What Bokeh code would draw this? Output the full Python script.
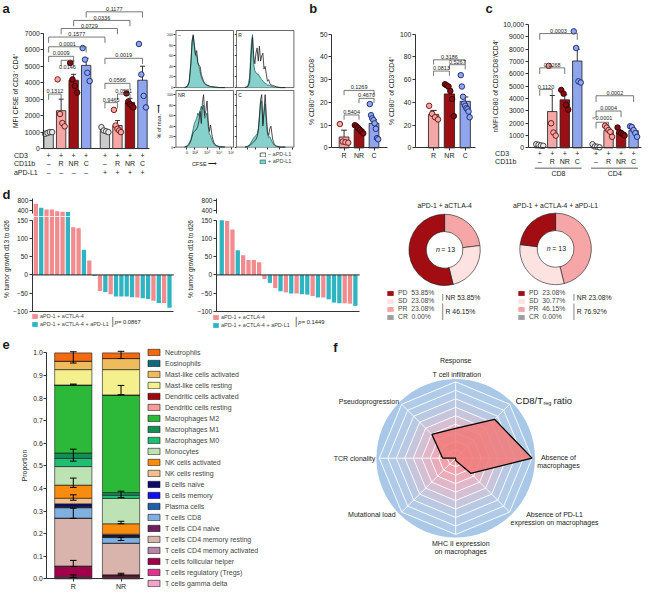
import numpy as np
from bokeh.plotting import figure
from bokeh.layouts import row, column
from bokeh.models import Label, Legend, LegendItem, ColumnDataSource, PrintfTickFormatter, FixedTicker
from bokeh.core.properties import value
from bokeh.embed import file_html
from bokeh.resources import INLINE

FONT = "Liberation Sans"
INK = "#1a1a1a"
S = 0.965

# ---------------- data ----------------
GREY, PINK, DRED, BLUE = "#cbcbcb", "#f4a7a5", "#9c0f14", "#8fa6ee"
PT_FILL = {"g": "#e8e8e8", "r": "#f4a7a5", "n": "#8a0a10", "c": "#8fa6ee"}
PT_LINE = {"g": "#333333", "r": "#6a0d0d", "n": "#2a0000", "c": "#16246e"}

# panel a
a_x = [0, 1, 2, 3, 4.5, 5.5, 6.5, 7.5]
a_cd3 = ["+"] * 8
a_cd11b = ["–", "R", "NR", "C", "–", "R", "NR", "C"]
a_apdl1 = ["–"] * 4 + ["+"] * 4
a_mean = [950, 2300, 4150, 5050, 1100, 1400, 2800, 4150]
a_sem = [60, 700, 360, 430, 70, 300, 250, 850]
a_points = [[900, 950, 1000, 1000], [4200, 2100, 1550, 1350], [5200, 4200, 3800, 3400],
            [6100, 5400, 4600, 4100], [1300, 1100, 1050, 1000], [2350, 1400, 1200, 1100, 1000],
            [3350, 2850, 2700, 2600, 2500], [6350, 4500, 3200, 2500]]
a_br_x0 = [3, 2, 1, 0, 0, 0, 1, 0, 4.5, 4.5, 5.5, 4.5]
a_br_x1 = [7.5, 6.5, 5.5, 4.5, 3, 2, 2, 1, 7.5, 6.5, 6.5, 5.5]
a_br_y = [8300, 7780, 7290, 6770, 6180, 5600, 5360, 3310, 5480, 3960, 3310, 2790]
a_br_p = ["0.1177", "0.0336", "0.0729", "0.1577", "0.0001", "0.0009", "0.0146", "0.1312",
          "0.0019", "0.0566", "0.0531", "0.9465"]

# histograms (CFSE), x = position along biexponential axis (% of width)
h_x = [15, 20, 23, 26, 28, 30, 32, 34, 36, 38, 40, 42, 44, 46, 48, 50, 52, 54, 56, 58, 60, 63, 66, 70, 76, 85]
h_names = ["–", "R", "NR", "C"]
h_neg = [[0, 2, 10, 45, 85, 100, 80, 62, 70, 48, 42, 40, 25, 18, 12, 8, 6, 5, 4, 3, 2, 2, 1, 1, 0, 0],
         [0, 2, 10, 70, 95, 60, 45, 65, 75, 50, 78, 50, 60, 65, 35, 40, 25, 12, 15, 8, 5, 4, 3, 1, 0, 0],
         [0, 2, 5, 12, 20, 28, 30, 32, 35, 40, 50, 68, 45, 85, 100, 60, 70, 88, 50, 30, 42, 20, 8, 3, 1, 0],
         [0, 1, 3, 6, 8, 10, 12, 15, 20, 30, 55, 90, 100, 40, 70, 100, 60, 30, 22, 35, 40, 15, 5, 2, 0, 0]]
h_pos = [[0, 3, 12, 50, 90, 98, 78, 60, 62, 45, 40, 30, 20, 14, 10, 7, 5, 4, 3, 2, 2, 1, 1, 0, 0, 0],
         [0, 3, 20, 85, 100, 45, 32, 28, 26, 25, 22, 18, 15, 12, 10, 8, 7, 5, 5, 4, 3, 2, 1, 1, 0, 0],
         [0, 3, 8, 15, 25, 35, 45, 50, 55, 65, 60, 70, 78, 72, 80, 55, 60, 65, 40, 25, 22, 12, 5, 2, 0, 0],
         [0, 2, 5, 10, 14, 18, 20, 22, 25, 35, 60, 85, 88, 45, 65, 82, 50, 25, 18, 20, 15, 8, 3, 1, 0, 0]]
h_tick_pos = [19, 33, 54, 75, 97]
h_tick_lab = ["0", "10²", "10³", "10⁴", "10⁵"]

# panel b
b_x = [0, 1, 2]
b_cats = ["R", "NR", "C"]
b1_mean = [4.8, 8.2, 10.8]
b1_sem = [3.0, 0.7, 1.6]
b1_points = [[10.5, 2.8, 2.5, 2.3], [10.0, 9.5, 8.8, 8.0, 7.2, 6.4],
             [19.3, 14.4, 13.0, 12.2, 10.8, 8.4, 4.3, 3.8]]
b1_br = ([0, 1, 0], [2, 2, 1], [25.3, 21.8, 14.5], ["0.1269", "0.4670", "0.5404"])
b2_mean = [29.5, 47.5, 41.0]
b2_sem = [3.5, 4.5, 3.8]
b2_points = [[37, 30, 27, 25], [56, 55, 54, 50, 43, 28], [64, 54, 45, 39, 37, 35, 34, 32, 27]]
b2_br = ([0, 1, 0], [2, 2, 1], [77.5, 73.2, 67.6], ["0.3186", "0.5267", "0.0813"])

# panel c
c_x = [0, 1, 2, 3, 4.5, 5.5, 6.5, 7.5]
c_cd3 = ["+"] * 8
c_cd11b = ["–", "R", "NR", "C", "–", "R", "NR", "C"]
c_groups = ["CD8", "CD4"]
c_mean = [250, 2950, 3900, 7050, 150, 1400, 1250, 1400]
c_sem = [40, 1300, 400, 950, 50, 150, 120, 180]
c_points = [[300, 250, 200, 170], [6650, 2000, 1250, 1000], [4700, 4400, 3500, 3100],
            [9450, 8100, 5400, 5300], [300, 120, 100, 50], [1800, 1650, 1450, 1300, 900],
            [1650, 1300, 1200, 1100, 1000], [1750, 1700, 1450, 1200, 900]]
c_br = ([0, 0, 0, 4.5, 4.5, 4.5], [3, 2, 1, 7.5, 6.5, 5.5], [9270, 6490, 4730, 4230, 2990, 2080],
        ["0.0003", "0.0268", "0.1120", "0.0002", "0.0004", "<0.0001"])

# panel d (waterfalls); A = aPD-1 + aCTLA-4, B = + aPD-L1
d_groups = ["aPD-1 + aCTLA-4", "aPD-1 + aCTLA-4 + aPD-L1"]
d1_vals = [670, 500, 430, 430, 350, 330, 320, 131, 128, 69, 40, -3, -44, -47, -53, -59, -59, -59,
           -61, -62, -64, -66, -71, -77, -77, -90]
d1_grp = ["A", "B", "A", "A", "A", "A", "B", "A", "A", "B", "A", "B", "A", "B", "A", "B", "B", "B",
          "B", "A", "B", "B", "A", "B", "A", "B"]
d1_p = "0.0867"
d2_vals = [150, 148, 125, 68, 54, 41, 41, 35, -11, -22, -36, -45, -48, -51, -51, -53, -54, -58,
           -62, -62, -67, -76, -78, -78, -79, -85]
d2_grp = ["B", "A", "A", "B", "A", "A", "A", "A", "A", "B", "A", "B", "A", "B", "A", "B", "B", "A",
          "B", "A", "B", "B", "B", "A", "A", "B"]
d2_p = "0.1449"
d_ticks = [-100, -50, 0, 50, 100, 150]

# donuts
don_labels = ["PD", "SD", "PR", "CR"]
don1_pct = [53.85, 23.08, 23.08, 0.00]
don2_pct = [23.08, 30.77, 46.15, 0.00]
don_titles = ["aPD-1 + aCTLA-4", "aPD-1 + aCTLA-4 + aPD-L1"]
don_n = 13

# panel e (top to bottom, as in legend)
e_types = ["Neutrophils", "Eosinophils", "Mast-like cells activated", "Mast-like cells resting",
           "Dendritic cells activated", "Dendritic cells resting", "Macrophages M2", "Macrophages M1",
           "Macrophages M0", "Monocytes", "NK cells activated", "NK cells resting", "B cells naive",
           "B cells memory", "Plasma cells", "T cells CD8", "T cells CD4 naive",
           "T cells CD4 memory resting", "T cells CD4 memory activated", "T cells follicular helper",
           "T cells regulatory (Tregs)", "T cells gamma delta"]
e_colors = ["#f36a10", "#0e6a7e", "#eebc5c", "#f4f08e", "#a0070d", "#f79a9a", "#2cb93a", "#138e55",
            "#1fbe72", "#bde3b5", "#f98c0f", "#f2c08e", "#0b0b6e", "#1010f0", "#1f5fa8", "#7fb0e0",
            "#6d1f5e", "#d8b4ad", "#b785a8", "#a0004a", "#e0358f", "#f2a5c8"]
e_R = [0.037, 0.0, 0.037, 0.068, 0.0, 0.0, 0.301, 0.024, 0.036, 0.082, 0.058, 0.025, 0.012, 0.002,
       0.003, 0.046, 0.0, 0.212, 0.002, 0.046, 0.004, 0.005]
e_NR = [0.025, 0.0, 0.049, 0.112, 0.0, 0.0, 0.432, 0.012, 0.014, 0.112, 0.046, 0.004, 0.006, 0.002,
        0.003, 0.025, 0.0, 0.140, 0.0, 0.008, 0.004, 0.006]
e_cats = ["R", "NR"]
e_err_x = [0, 0, 0, 0, 0, 0, 0, 0, 1, 1, 1, 1, 1, 1]
e_err_lo = [0.955, 0.858, 0.521, 0.405, 0.348, 0.268, 0.055, 0.006, 0.975, 0.815, 0.360, 0.244, 0.170, 0.018]
e_err_hi = [1.005, 0.862, 0.574, 0.446, 0.372, 0.313, 0.082, 0.018, 1.007, 0.856, 0.388, 0.255, 0.183, 0.025]

# panel f (radar), clockwise from top
f_axes = ["T cell infiltration", "CD8/Treg ratio", "Absence of macrophages",
          "Absence of PD-L1 expression on macrophages", "MHC II expression on macrophages",
          "Mutational load", "TCR clonality", "Pseudoprogression"]
f_vals = [0.39, 0.72, 1.0, 0.28, 0.03, 0.0, 0.17, 0.44]

# ---------------- helpers ----------------
FR = {}
NAN1 = np.array([np.nan])


def sc(v):
    return int(round(v * S))


def mkfig(X0, Y0, X1, Y1, fx, fy):
    """Figure whose frame fills the whole box (X0..X1, Y0..Y1) of the reference layout."""
    p = figure(width=sc(X1) - sc(X0), height=sc(Y1) - sc(Y0),
               x_range=(fx(X0), fx(X1)), y_range=(fy(Y1), fy(Y0)),
               output_backend="svg", toolbar_location=None, min_border=0)
    p.outline_line_color = None
    p.xgrid.visible = False
    p.ygrid.visible = False
    p.background_fill_color = "white"
    p.border_fill_color = "white"
    FR[id(p)] = (fx, fy)
    return p


def to_data(p, X, Y):
    fx, fy = FR[id(p)]
    return fx(X), fy(Y)


def label(p, X, Y, text, size="6.5px", align="left", baseline="middle", style="normal", color=INK, angle=0.0):
    x, y = to_data(p, X, Y)
    p.add_layout(Label(x=x, y=y, text=text, text_font=FONT, text_font_size=size, text_align=align,
                       text_baseline=baseline, text_font_style=style, text_color=color, angle=angle))


def style_axis(ax, size="6.5px", tick=3):
    ax.axis_line_color = "#333333"
    ax.axis_line_width = 1
    ax.major_tick_line_color = "#333333"
    ax.major_tick_out = tick
    ax.major_tick_in = 0
    ax.minor_tick_line_color = None
    ax.major_label_text_font = FONT
    ax.major_label_text_font_size = size
    ax.major_label_text_color = INK
    ax.major_label_standoff = 1
    ax.axis_label_text_font = FONT
    ax.axis_label_text_font_size = size
    ax.axis_label_text_font_style = "normal"
    ax.axis_label_text_color = INK
    ax.axis_label_standoff = 2


def yax(p, X, bounds, ticks, lab=None, size="6.8px", tick=3):
    ax = p.yaxis[0]
    style_axis(ax, size, tick)
    ax.fixed_location = to_data(p, X, 0)[0]
    ax.bounds = bounds
    ax.ticker = ticks
    if lab:
        ax.axis_label = lab
    return ax


def xax(p, yloc, X0, X1, ticks, overrides=None, size="7px", tick=3):
    ax = p.xaxis[0]
    style_axis(ax, size, tick)
    ax.fixed_location = yloc
    ax.bounds = (to_data(p, X0, 0)[0], to_data(p, X1, 0)[0])
    ax.ticker = ticks
    if overrides:
        ax.major_label_overrides = overrides
    return ax


def bars(p, xs, means, sems, pts, fills, keys, width, capw, jit, psize=5.5):
    p.vbar(x=xs, top=means, width=width, fill_color=fills, line_color=INK, line_width=0.8)
    tops = [m + s for m, s in zip(means, sems)]
    p.segment(x0=xs, y0=means, x1=xs, y1=tops, line_color=INK, line_width=0.9)
    p.segment(x0=[x - capw for x in xs], y0=tops, x1=[x + capw for x in xs], y1=tops,
              line_color=INK, line_width=0.9)
    px, py, pf, pl = [], [], [], []
    for x, vals, k in zip(xs, pts, keys):
        n = len(vals)
        for i, v in enumerate(vals):
            off = 0.0 if n == 1 else -jit + 2 * jit * i / (n - 1)
            px.append(x + off)
            py.append(v)
            pf.append(PT_FILL[k])
            pl.append(PT_LINE[k])
    p.scatter(x=px, y=py, size=psize, fill_color=pf, line_color=pl, line_width=0.9)


def brackets(p, x0s, x1s, ys, labels, leg, px1, size="5.5px", below=()):
    p.multi_line(xs=[[a, a, b, b] for a, b in zip(x0s, x1s)],
                 ys=[[y - leg, y, y, y - leg] for y in ys], line_color="#555555", line_width=0.8)
    up = [i for i in range(len(labels)) if labels[i] not in below]
    dn = [i for i in range(len(labels)) if labels[i] in below]
    p.text(x=[(x0s[i] + x1s[i]) / 2 for i in up], y=[ys[i] + px1 for i in up],
           text=[labels[i] for i in up], text_font=value(FONT), text_font_size=size,
           text_align="center", text_baseline="bottom", text_color=INK)
    if dn:
        p.text(x=[(x0s[i] + x1s[i]) / 2 for i in dn], y=[ys[i] - 5 * px1 for i in dn],
               text=[labels[i] for i in dn], text_font=value(FONT), text_font_size=size,
               text_align="center", text_baseline="top", text_color=INK)


def row_text(p, xs, Y, texts, size="7px"):
    yd = to_data(p, 0, Y)[1]
    p.text(x=xs, y=[yd] * len(xs), text=texts, text_font=value(FONT), text_font_size=size,
           text_align="center", text_baseline="middle", text_color=INK)


def letter(p, X, Y, t):
    label(p, X, Y, t, size="13px", style="bold", baseline="top")


def legend(items, X, Ybottom, X0, Y1, size, gw, gh, lh, sp, st):
    return Legend(items=items, location=(sc(X) - sc(X0), sc(Y1) - sc(Ybottom)), label_text_font=FONT,
                  label_text_font_size=size, glyph_width=gw, glyph_height=gh, label_height=lh,
                  label_standoff=st, spacing=sp, padding=0, margin=0, border_line_color=None,
                  background_fill_alpha=0)


def swatch(p, fill, line=None, lw=0.7):
    return p.quad(left=NAN1, right=NAN1, top=NAN1, bottom=NAN1, fill_color=fill,
                  line_color=line, line_width=lw)


# ---------------- panel a ----------------
fa = mkfig(0, 0, 160, 192, lambda X: (X - 50) / 13, lambda Y: (153.7 - Y) / 17.1 * 1000)
yax(fa, 45, (0, 7000), [0, 1000, 2000, 3000, 4000, 5000, 6000, 7000], "MFI CFSE of CD3⁺ CD4⁺")
xax(fa, 0, 45, 155, [])
keys8 = ["g", "r", "n", "c"] * 2
bars(fa, a_x, a_mean, a_sem, a_points, [GREY, PINK, DRED, BLUE] * 2, keys8, 0.75, 0.2, 0.28)
brackets(fa, a_br_x0, a_br_x1, a_br_y, a_br_p, 350, 55, below=("0.0146",))
for Y, vals, name in ((161, a_cd3, "CD3"), (169.5, a_cd11b, "CD11b"), (178, a_apdl1, "aPD-L1")):
    row_text(fa, a_x, Y, vals)
    label(fa, 14, Y, name, size="7px")
letter(fa, 2, 1, "a")

# ---------------- histograms ----------------
hboxes = [((160, 0, 242, 92), (182, 31, 241, 90)), ((242, 0, 314, 92), (244, 31, 304, 90)),
          ((160, 92, 242, 192), (182, 93, 241, 152)), ((242, 92, 314, 192), (244, 93, 304, 152))]
hf = []
for k, (outer, box) in enumerate(hboxes):
    BX0, BY0, BX1, BY1 = box
    p = mkfig(*outer, lambda X, a=BX0, b=BX1: (X - a) / (b - a) * 100,
              lambda Y, a=BY0, b=BY1: (b - Y) / (b - a) * 108)
    p.quad(left=[0], right=[100], bottom=[0], top=[108], fill_color=None, line_color="#444444", line_width=0.8)
    ax = yax(p, BX0, (0, 100), [0, 20, 40, 60, 80, 100], size="3.6px", tick=2)
    ax.axis_line_color = None
    if k in (1, 3):
        ax.ticker = FixedTicker(ticks=[], minor_ticks=[0, 20, 40, 60, 80, 100])
        ax.minor_tick_line_color = "#333333"
        ax.minor_tick_out = 2
        ax.minor_tick_in = 0
    if k >= 2:
        xa = xax(p, 0, BX0, BX1, h_tick_pos, dict(zip(h_tick_pos, h_tick_lab)), size="4.2px", tick=2)
        xa.axis_line_color = None
        if k == 3:
            xa.ticker = FixedTicker(ticks=[], minor_ticks=h_tick_pos)
            xa.minor_tick_line_color = "#333333"
            xa.minor_tick_out = 2
            xa.minor_tick_in = 0
    else:
        p.xaxis.visible = False
    p.varea(x=h_x, y1=0, y2=h_pos[k], fill_color="#7fcfc8", fill_alpha=0.95)
    p.line(x=h_x, y=h_pos[k], line_color="#1d6c68", line_width=0.8)
    p.line(x=h_x, y=h_neg[k], line_color="#222222", line_width=0.8)
    label(p, BX0 + 2, BY0 + 2, h_names[k], size="5px", baseline="top")
    hf.append(p)
hf[2].yaxis[0].axis_label = "% of max. ⟶"
hf[2].yaxis[0].axis_label_text_font_size = "5.5px"
hf[2].yaxis[0].axis_label_standoff = 2
hf[2].xaxis[0].axis_label = "CFSE ⟶"
hf[2].xaxis[0].axis_label_text_font_size = "5.5px"
hf[2].xaxis[0].axis_label_standoff = 2
dneg = swatch(hf[3], "white", "#222222")
dpos = swatch(hf[3], "#7fcfc8", "#1d6c68")
hf[3].add_layout(legend([LegendItem(label="– aPD-L1", renderers=[dneg]),
                         LegendItem(label="+ aPD-L1", renderers=[dpos])],
                        268, 170, 242, 192, "5.5px", 7, 5, 6, 1, 2))
hist = column(row(hf[0], hf[1]), row(hf[2], hf[3]))


# ---------------- panel b ----------------
def bpanel(X0, X1, AX, BX1, c0, step, k, ticks, means, sems, pts, br, leg, px1, ylab):
    p = mkfig(X0, 0, X1, 192, lambda X: (X - c0) / step, lambda Y: (153 - Y) / k)
    yax(p, AX, (0, ticks[-1]), ticks, ylab)
    xax(p, 0, AX, BX1, b_x, dict(zip(b_x, b_cats)))
    bars(p, b_x, means, sems, pts, [PINK, DRED, BLUE], ["r", "n", "c"], 0.65, 0.2, 0.28)
    brackets(p, *br, leg, px1)
    return p


fb1 = bpanel(314, 402, 343, 401, 356, 15.5, 2.36, [0, 10, 20, 30, 40, 50], b1_mean, b1_sem,
             b1_points, b1_br, 2.1, 0.45, "% CD80⁺ of CD3⁺CD8⁺")
fb2 = bpanel(402, 500, 430, 493, 449, 16.5, 1.18, [0, 20, 40, 60, 80, 100], b2_mean, b2_sem,
             b2_points, b2_br, 4.2, 0.9, "% CD80⁺ of CD3⁺CD4⁺")
letter(fb1, 320, 1, "b")

# ---------------- panel c ----------------
fc = mkfig(500, 0, 667, 192, lambda X: (X - 559) / 12.9, lambda Y: (153 - Y) / 12.8 * 1000)
cy_ax = yax(fc, 547, (0, 10000), list(range(0, 10001, 1000)), "nMFI CD80 of CD3⁺CD8⁺/CD4⁺")
cy_ax.major_label_overrides = {10000: "10,000"}
xax(fc, 0, 547, 664, [])
bars(fc, c_x, c_mean, c_sem, c_points, [GREY, PINK, DRED, BLUE] * 2, keys8, 0.75, 0.2, 0.28)
brackets(fc, *c_br, 500, 70)
row_text(fc, c_x, 159, c_cd3)
row_text(fc, c_x, 167, c_cd11b)
label(fc, 513, 159, "CD3", size="7px")
label(fc, 513, 167, "CD11b", size="7px")
yl = to_data(fc, 0, 174)[1]
fc.segment(x0=[c_x[0] - 0.4, c_x[4] - 0.4], y0=[yl, yl], x1=[c_x[3] + 0.35, c_x[7] + 0.35], y1=[yl, yl],
           line_color="#333333", line_width=0.8)
row_text(fc, [(c_x[0] + c_x[3]) / 2, (c_x[4] + c_x[7]) / 2], 180, c_groups)
letter(fc, 503, 1, "c")

# ---------------- panel d ----------------
DPINK, DTEAL = "#f28b8d", "#2fb5c1"


def waterfall(X0, X1, AX, BX1, c0, step, vals, grp, ylab, pval, PX, LX, LY, LABX):
    fx = lambda X: (X - c0) / step
    top = mkfig(X0, 192, X1, 224, fx, lambda Y: 250 + (221 - Y) * 41.67)
    main = mkfig(X0, 224, X1, 347, fx, lambda Y: 150 - (Y - 228) * 250 / 94)
    rends = {}
    for f in (top, main):
        for g, col in (("A", DPINK), ("B", DTEAL)):
            idx = [i for i, gg in enumerate(grp) if gg == g]
            rends[g] = f.vbar(x=idx, top=[vals[i] for i in idx], width=0.8, fill_color=col, line_color=None)
    top.xaxis.visible = False
    yax(top, AX, (250, 880), [400, 800], size="6.5px")
    ya = yax(main, AX, (-100, 150), d_ticks, None, size="6.5px")
    ya.major_label_text_alpha = 0
    # tick labels of the main segment, written at the axis ticks
    main.text(x=[fx(AX - 4.5)] * len(d_ticks), y=d_ticks,
              text=[("−%d" % -t) if t < 0 else ("%d" % t) for t in d_ticks],
              text_font=value(FONT), text_font_size="6.5px", text_align="right",
              text_baseline="middle", text_color=INK)
    label(main, LABX, 268, ylab, size="6.5px", align="center", angle=np.pi / 2)
    xax(main, -100, AX, BX1, [])
    x0d, x1d = fx(AX), fx(BX1)
    main.segment(x0=[x0d], y0=[0], x1=[x1d], y1=[0], line_color="#222222", line_width=1)
    main.add_layout(legend([LegendItem(label=d_groups[0], renderers=[rends["A"]]),
                            LegendItem(label=d_groups[1], renderers=[rends["B"]])],
                           LX, LY, X0, 347, "5.5px", 7, 6, 6, 2, 2))
    label(main, PX, 332, "|", size="11px", color="#666666")
    label(main, PX + 3.5, 333, "p", size="5.8px", style="italic")
    label(main, PX + 7, 333, "= " + pval, size="5.8px")
    return top, main


d1t, d1m = waterfall(0, 190, 33, 180, 36.7, 5.55, d1_vals, d1_grp, "% tumor growth d13 to d26",
                     d1_p, 115, 32, 339, 6)
d2t, d2m = waterfall(190, 380, 224, 372, 229.5, 5.52, d2_vals, d2_grp, "% tumor growth d19 to d26",
                     d2_p, 305, 220, 340, 197)
letter(d1t, 2, 194, "d")

# ---------------- donuts ----------------
DON_COLORS = ["#a10d12", "#fde2e2", "#f6a6a6", "#9e9e9e"]


def donut(X0, X1, CX, CY, title, pcts, LX, BX):
    p = mkfig(X0, 192, X1, 347, lambda X: X - X0, lambda Y: 347 - Y)
    p.xaxis.visible = False
    p.yaxis.visible = False
    cx, cy = to_data(p, CX, CY)
    order = [2, 1, 0]
    st, en, cols = [], [], []
    cum = 0.0
    for i in order:
        st.append(np.pi / 2 - 2 * np.pi * cum / 100)
        cum += pcts[i]
        en.append(np.pi / 2 - 2 * np.pi * cum / 100)
        cols.append(DON_COLORS[i])
    p.annular_wedge(x=[cx] * 3, y=[cy] * 3, inner_radius=19, outer_radius=37, start_angle=st,
                    end_angle=en, direction="clock", fill_color=cols, line_color=INK, line_width=0.6)
    label(p, CX, 213, title, size="6.8px", align="center")
    label(p, CX - 5, CY, "n", size="7px", align="right", style="italic")
    label(p, CX - 3.5, CY, "= %d" % don_n, size="7px")
    items = []
    for lab_, pct, col in zip(don_labels, pcts, DON_COLORS):
        d = swatch(p, col)
        items.append(LegendItem(label="%s  %.2f%%" % (lab_, pct), renderers=[d]))
    p.add_layout(legend(items, LX, 332, X0, 347, "6.8px", 8, 6, 6, 1, 4))
    xb = to_data(p, BX, 0)[0]
    y1a, y1b = to_data(p, 0, 304)[1], to_data(p, 0, 311)[1]
    y2a, y2b = to_data(p, 0, 314)[1], to_data(p, 0, 331)[1]
    p.segment(x0=[xb, xb], y0=[y1a, y2a], x1=[xb, xb], y1=[y1b, y2b], line_color="#999999", line_width=1.2)
    label(p, BX + 3, 307.5, "NR %.2f%%" % pcts[0], size="6.8px")
    label(p, BX + 3, 322, "R   %.2f%%" % (100 - pcts[0]), size="6.8px")
    return p


dn1 = donut(380, 518, 460, 258.5, don_titles[0], don1_pct, 400, 458)
dn2 = donut(518, 667, 575, 257.5, don_titles[1], don2_pct, 536, 594)

# ---------------- panel e ----------------
pe = mkfig(0, 347, 335, 611, lambda X: (X - 75.5) / 49.5, lambda Y: (599 - Y) / 234)
ey = yax(pe, 48, (0, 1), [i / 10 for i in range(11)], "Proportion")
ey.formatter = PrintfTickFormatter(format="%.1f")
xax(pe, 0, 48, 148, [0, 1], {0: e_cats[0], 1: e_cats[1]})
stack_names = e_types[::-1]
src = dict(x=[0, 1])
for nme, r, nr in zip(e_types, e_R, e_NR):
    src[nme] = [r, nr]
rends = pe.vbar_stack(stack_names, x="x", width=0.78, color=e_colors[::-1], source=ColumnDataSource(src),
                      line_color=INK, line_width=0.6)
pe.segment(x0=e_err_x, y0=e_err_lo, x1=e_err_x, y1=e_err_hi, line_color="black", line_width=1)
pe.segment(x0=[x - 0.07 for x in e_err_x], y0=e_err_hi, x1=[x + 0.07 for x in e_err_x], y1=e_err_hi,
           line_color="black", line_width=1)
pe.segment(x0=[x - 0.07 for x in e_err_x], y0=e_err_lo, x1=[x + 0.07 for x in e_err_x], y1=e_err_lo,
           line_color="black", line_width=1)
pe.add_layout(legend([LegendItem(label=n, renderers=[r]) for n, r in zip(stack_names[::-1], rends[::-1])],
                     151, 608, 0, 611, "7px", 15, 8, 8, 3, 4))
letter(pe, 2, 352, "e")

# ---------------- panel f ----------------
pf = mkfig(335, 347, 667, 611, lambda X: X - 335, lambda Y: 611 - Y)
pf.xaxis.visible = False
pf.yaxis.visible = False
cx, cy = to_data(pf, 471.7, 474)
RMAX = 79
ang = [np.pi / 2 - k * np.pi / 4 for k in range(len(f_axes))]
RING = ["#afcbe8", "#b3cbe7", "#bac9e3", "#c6c5dc", "#d4bfd3", "#e0b6c8", "#eaacbb", "#f0a3ae", "#f39ca4"]
pf.circle(x=[cx], y=[cy], radius=82, fill_color="#a9c7e7", line_color=None)
for k, col in zip(range(9, 0, -1), RING):
    r = RMAX * k / 9
    pf.patch([cx + r * np.cos(a) for a in ang], [cy + r * np.sin(a) for a in ang],
             fill_color=col, line_color="white", line_width=0.9)
pf.segment(x0=[cx] * 8, y0=[cy] * 8, x1=[cx + RMAX * np.cos(a) for a in ang],
           y1=[cy + RMAX * np.sin(a) for a in ang], line_color="white", line_width=0.9)
pf.patch([cx + RMAX * v * np.cos(a) for v, a in zip(f_vals, ang)],
         [cy + RMAX * v * np.sin(a) for v, a in zip(f_vals, ang)],
         fill_color="#f07d7d", fill_alpha=0.9, line_color="black", line_width=1.3)
label(pf, 471.7, 373, "Response", size="7px", align="center")
label(pf, 473, 387, "T cell infiltration", size="7px", align="center")
label(pf, 562, 414, "CD8/T", size="9.5px", align="right")
label(pf, 562.5, 417, "reg", size="5.5px")
label(pf, 573, 414, "ratio", size="9.5px")
label(pf, 578, 473, "Absence of", size="7px", align="center")
label(pf, 578, 482, "macrophages", size="7px", align="center")
label(pf, 574, 532.5, "Absence of PD-L1", size="7px", align="center")
label(pf, 574, 541, "expression on macrophages", size="7px", align="center")
label(pf, 477, 562, "MHC II expression", size="7px", align="center")
label(pf, 477, 570.5, "on macrophages", size="7px", align="center")
label(pf, 385, 532, "Mutational load", size="7px", align="center")
label(pf, 367, 474, "TCR clonality", size="7px", align="center")
label(pf, 382, 415, "Pseudoprogression", size="7px", align="center")
letter(pf, 345, 352, "f")

# ---------------- layout ----------------
r1 = row(fa, hist, fb1, fb2, fc)
r2 = row(column(d1t, d1m), column(d2t, d2m), dn1, dn2)
r3 = row(pe, pf)
layout = column(r1, r2, r3)
open("out.html", "w").write(file_html(layout, INLINE))
